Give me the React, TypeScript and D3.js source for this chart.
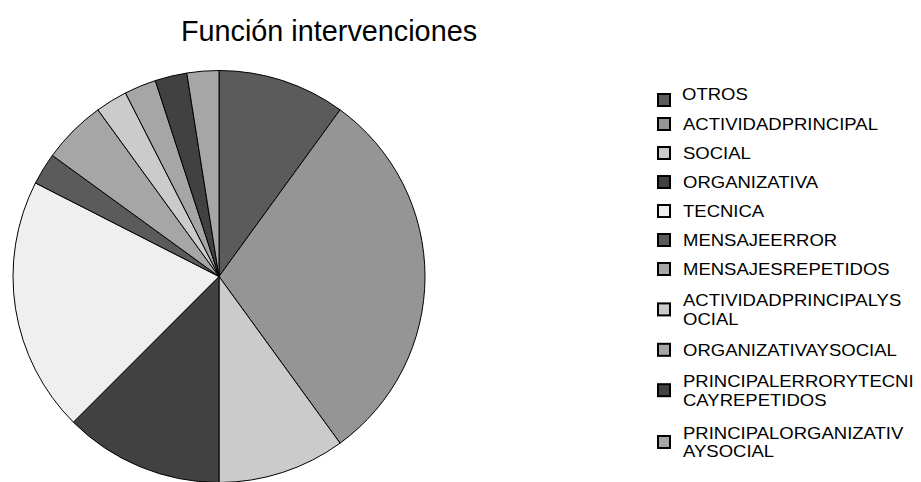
import React from "react";
import * as d3 from "d3";

const categories = [
  "OTROS",
  "ACTIVIDADPRINCIPAL",
  "SOCIAL",
  "ORGANIZATIVA",
  "TECNICA",
  "MENSAJEERROR",
  "MENSAJESREPETIDOS",
  "ACTIVIDADPRINCIPALYSOCIAL",
  "ORGANIZATIVAYSOCIAL",
  "PRINCIPALERRORYTECNICAYREPETIDOS",
  "PRINCIPALORGANIZATIVAYSOCIAL",
];
const values = [4, 12, 4, 5, 8, 1, 2, 1, 1, 1, 1];
const colors = [
  "#5b5b5b",
  "#959595",
  "#cbcbcb",
  "#414141",
  "#efefef",
  "#5b5b5b",
  "#a6a6a6",
  "#cbcbcb",
  "#a6a6a6",
  "#414141",
  "#a6a6a6",
];
const title = "Función intervenciones";

const W = 921;
const H = 482;
const FONT = "'Liberation Sans', Arial, Helvetica, sans-serif";

function wrap(s: string, n: number): string[] {
  const out: string[] = [];
  for (let i = 0; i < s.length; i += n) out.push(s.slice(i, i + n));
  return out;
}

let ctx: CanvasRenderingContext2D | null = null;
function measure(s: string, size: number): number {
  if (!ctx) ctx = document.createElement("canvas").getContext("2d");
  if (!ctx) return s.length * size * 0.6;
  ctx.font = `${size}px ${FONT}`;
  return ctx.measureText(s).width;
}

export default function App() {
  const cx = 219;
  const cy = 276.5;
  const r = 206;
  const pie = d3.pie<number>().sort(null).value((d) => d);
  const arcs = pie(values);
  const arc = d3.arc<d3.PieArcDatum<number>>().innerRadius(0).outerRadius(r);

  const legendX = 657;
  const textX = 683;
  const lineH = 18.8;
  const fs = 16.2;
  const refFs = 18.5;
  const rowGap = 29;
  let y = 100;
  const legendRows = categories.map((c, i) => {
    const lines = wrap(c, 20);
    const h = lines.length === 1 ? rowGap : rowGap + (lines.length - 1) * lineH + 4;
    const centerY = lines.length === 1 ? y : y + ((lines.length - 1) * lineH) / 2 + 2;
    const row = { c, i, lines, centerY };
    y += lines.length === 1 ? rowGap : h;
    if (i === 0) y = 124;
    return row;
  });

  return (
    <svg
      width={W}
      height={H}
      style={{ position: "absolute", left: 0, top: 0, background: "#fff" }}
    >
      <text
        x={329}
        y={41}
        textAnchor="middle"
        fontFamily={FONT}
        fontSize={28.8}
        fill="#000"
      >
        {title}
      </text>
      <g transform={`translate(${cx},${cy})`}>
        {arcs.map((a, i) => (
          <path
            key={i}
            d={arc(a) || ""}
            fill={colors[i]}
            stroke="#000"
            strokeWidth={1}
            strokeLinejoin="round"
          />
        ))}
      </g>
      <g>
        {legendRows.map((row) => {
          const n = row.lines.length;
          const textOffset = row.i === 0 ? -6 : 0;
          const x0 = textX - (row.i === 0 ? 1 : 0);
          return (
            <g key={row.i}>
              <rect
                x={legendX + 1}
                y={row.centerY - 6}
                width={12}
                height={12}
                fill={colors[row.i]}
                stroke="#000"
                strokeWidth={2}
              />
              {row.lines.map((ln, k) => (
                <text
                  key={k}
                  x={x0}
                  y={row.centerY + textOffset + 6 + (k - (n - 1) / 2) * lineH}
                  fontFamily={FONT}
                  fontSize={fs}
                  fill="#000"
                  textLength={measure(ln, refFs)}
                  lengthAdjust="spacingAndGlyphs"
                >
                  {ln}
                </text>
              ))}
            </g>
          );
        })}
      </g>
    </svg>
  );
}
